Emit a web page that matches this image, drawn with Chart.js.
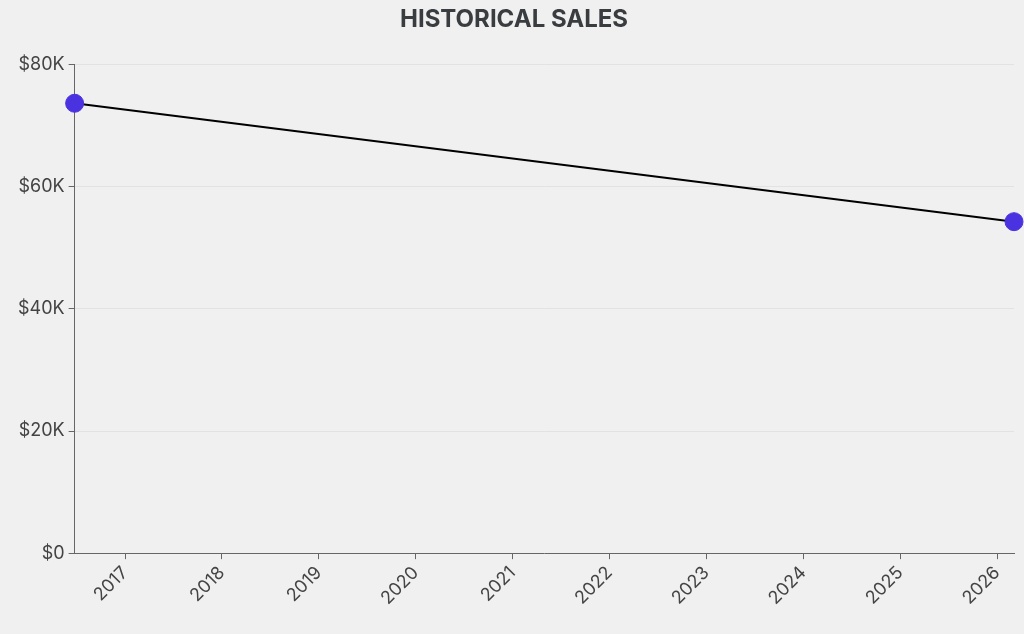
<!DOCTYPE html>
<html>
<head>
<meta charset="utf-8">
<script src="https://cdn.jsdelivr.net/npm/chart.js@4"></script>
<style>
  html, body { margin: 0; padding: 0; background: #f0f0f0; }
  #wrap { width: 1024px; height: 634px; }
</style>
</head>
<body>
<div id="wrap"><canvas id="salesChart"></canvas></div>
<script>
// sale dates as decimal years (mid 2016 -> early 2026)
const saleDates = [2016.48, 2026.175];
const saleValues = [73700, 54300];
const yearTicks = [2017, 2018, 2019, 2020, 2021, 2022, 2023, 2024, 2025, 2026];
const yTicks = [0, 20000, 40000, 60000, 80000];

Chart.defaults.font.family = 'Inter, "Noto Sans", sans-serif';
Chart.defaults.color = '#444';

const ctx = document.getElementById('salesChart').getContext('2d');
new Chart(ctx, {
    type: 'line',
    data: {
        datasets: [{
            label: 'Sales',
            data: saleDates.map((d, i) => ({ x: d, y: saleValues[i] })),
            borderColor: '#000',
            borderWidth: 2,
            pointBackgroundColor: '#4a32e0',
            pointBorderColor: '#4a32e0',
            pointRadius: 9,
            pointBorderWidth: 1,
            tension: 0,
            clip: false
        }]
    },
    options: {
        responsive: true,
        maintainAspectRatio: false,
        animation: false,
        layout: { padding: { left: 14, right: 10, top: 1, bottom: 22 } },
        plugins: {
            legend: { display: false },
            tooltip: { enabled: false },
            title: {
                display: true,
                text: 'HISTORICAL SALES',
                color: '#3a3d40',
                font: { size: 24, weight: 'bold' },
                padding: { top: 4, bottom: 31 }
            }
        },
        scales: {
            x: {
                type: 'linear',
                min: saleDates[0],
                max: saleDates[saleDates.length - 1],
                afterBuildTicks: axis => {
                    axis.ticks = yearTicks.map(v => ({ value: v }));
                },
                ticks: {
                    maxRotation: 45,
                    minRotation: 45,
                    color: '#444',
                    font: { size: 18 },
                    callback: v => String(v)
                },
                grid: {
                    drawOnChartArea: false,
                    tickColor: '#666',
                    tickLength: 6
                },
                border: { color: '#666', width: 1 }
            },
            y: {
                min: 0,
                max: 80000,
                afterBuildTicks: axis => {
                    axis.ticks = yTicks.map(v => ({ value: v }));
                },
                ticks: {
                    color: '#444',
                    font: { size: 18 },
                    padding: 4,
                    callback: v => v === 0 ? '$0' : '$' + (v / 1000) + 'K'
                },
                grid: {
                    color: '#e2e2e2',
                    tickColor: '#666',
                    tickLength: 6
                },
                border: { color: '#666', width: 1 }
            }
        }
    }
});
</script>
</body>
</html>
